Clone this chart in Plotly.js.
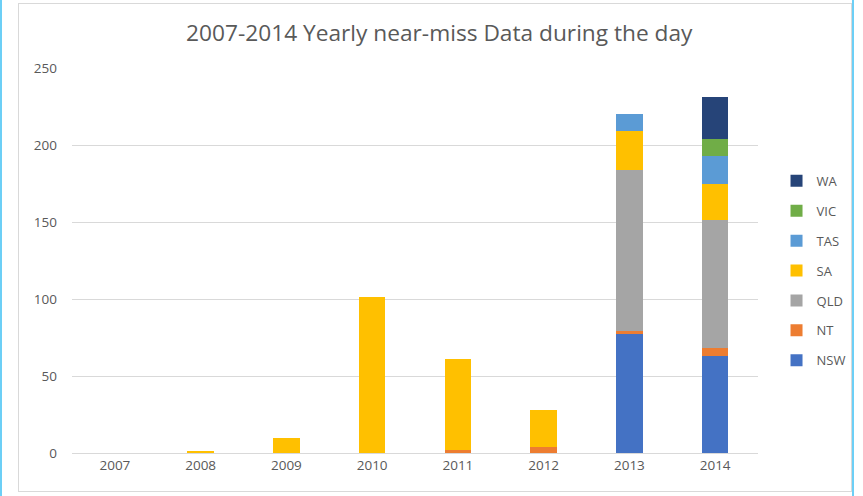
<!DOCTYPE html>
<html>
<head>
<meta charset="utf-8">
<script src="https://cdn.plot.ly/plotly-3.0.1.min.js"></script>
<style>
  html, body { margin:0; padding:0; background:#fff; }
  #wrap { position:relative; width:863px; height:496px; overflow:hidden; }
  #chart { position:absolute; left:0; top:0; width:863px; height:496px; }
  .frame { position:absolute; left:18px; top:3px; width:834px; height:489px; border:1px solid #d9d9d9; box-sizing:border-box; pointer-events:none; }
  .blueL { position:absolute; left:0; top:0; width:2px; height:496px; background:#6ccff6; }
  .blueR { position:absolute; left:852px; top:0; width:2px; height:496px; background:#6ccff6; }
</style>
</head>
<body>
<div id="wrap">
  <div id="chart"></div>
  <div class="frame"></div>
  <div class="blueL"></div>
  <div class="blueR"></div>
</div>
<script>
const years = ['2007','2008','2009','2010','2011','2012','2013','2014'];
const NSW = [0, 0, 0, 0, 0, 0, 77, 63];
const NT  = [0, 0, 0, 0, 2, 4, 2, 5];
const QLD = [0, 0, 0, 0, 0, 0, 105, 83];
const SA  = [0, 1, 10, 101, 59, 24, 25, 24];
const TAS = [0, 0, 0, 0, 0, 0, 11, 18];
const VIC = [0, 0, 0, 0, 0, 0, 0, 11];
const WA  = [0, 0, 0, 0, 0, 0, 0, 27];

const series = [
  ['NSW', NSW, '#4472C4'],
  ['NT', NT, '#ED7D31'],
  ['QLD', QLD, '#A5A5A5'],
  ['SA', SA, '#FFC000'],
  ['TAS', TAS, '#5B9BD5'],
  ['VIC', VIC, '#70AD47'],
  ['WA', WA, '#264478']
];

const traces = series.map(([name, vals, color], i) => ({
  type: 'bar', name: name, x: years, y: vals,
  marker: { color: color, line: { width: 0 } },
  legendgroup: name, legendrank: 100 - i, hoverinfo: 'x+y+name'
}));

const FONT = '"Open Sans", Lato, sans-serif';

const layout = {
  width: 863, height: 496,
  margin: { l: 72, r: 95, t: 68, b: 43 },
  barmode: 'stack',
  bargap: 0.69,
  paper_bgcolor: 'rgba(0,0,0,0)',
  plot_bgcolor: 'rgba(0,0,0,0)',
  font: { family: FONT, size: 13.5, color: '#595959' },
  title: {
    text: '2007-2014 Yearly near-miss Data during the day',
    font: { family: FONT, size: 22.7, color: '#595959' },
    x: 0.509, xref: 'container', xanchor: 'center',
    y: 0.933, yref: 'container', yanchor: 'middle'
  },
  xaxis: {
    type: 'category', showgrid: false, zeroline: false,
    showline: true, linecolor: '#d9d9d9', linewidth: 1,
    ticks: '', tickfont: { size: 13.5, color: '#595959' }
  },
  yaxis: {
    range: [0, 250], tickvals: [0, 50, 100, 150, 200, 250],
    showgrid: true, gridcolor: '#d9d9d9', gridwidth: 1,
    zeroline: false, showline: false, ticks: '',
    ticklabelstandoff: 14,
    tickfont: { size: 13.5, color: '#595959' }
  },
  legend: {
    x: 1.027, xanchor: 'left', y: 0.473, yanchor: 'middle',
    traceorder: 'grouped', tracegroupgap: 10,
    font: { size: 13, color: '#595959' },
    itemwidth: 30
  },
  showlegend: true
};

Plotly.newPlot('chart', traces, layout, { displayModeBar: false, staticPlot: true });
</script>
</body>
</html>
